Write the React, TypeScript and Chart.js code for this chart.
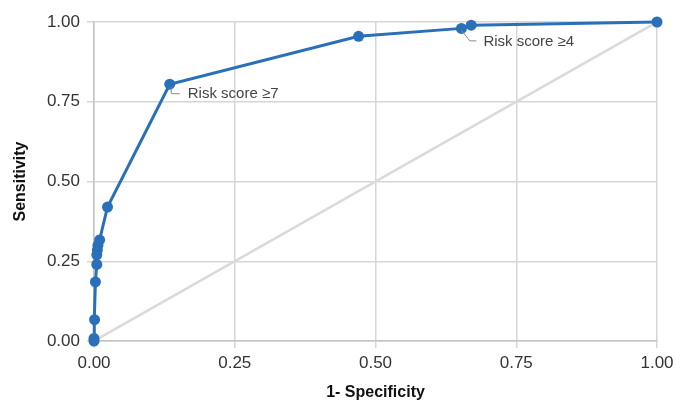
import React, { useEffect, useRef } from "react";
import { Chart, registerables } from "chart.js";

Chart.register(...registerables);

const fpr = [0, 0, 0.001, 0.0025, 0.005, 0.005, 0.006, 0.007, 0.01, 0.024, 0.1345, 0.47, 0.6526, 0.67, 1];
const tpr = [0, 0.008, 0.067, 0.185, 0.24, 0.27, 0.285, 0.3, 0.317, 0.42, 0.805, 0.955, 0.98, 0.99, 1];
const refX = [0, 1];
const refY = [0, 1];
const annotationIndex = [10, 12];
const annotationText = ["Risk score ≥7", "Risk score ≥4"];
const annotationStyle = ["down", "diag"];
const xTitle = "1- Specificity";
const yTitle = "Sensitivity";

const FONT = "'Liberation Sans', Arial, Helvetica, sans-serif";

const annotationPlugin = {
  id: "rocAnnotations",
  afterDatasetsDraw(chart: any) {
    const ctx = chart.ctx;
    const meta = chart.getDatasetMeta(1);
    ctx.save();
    ctx.strokeStyle = "#8a8a8a";
    ctx.lineWidth = 1;
    ctx.fillStyle = "#454545";
    ctx.font = `15px ${FONT}`;
    ctx.textBaseline = "middle";
    ctx.textAlign = "left";
    annotationIndex.forEach((idx, i) => {
      const el = meta.data[idx];
      if (!el) return;
      const px = el.x;
      const py = el.y;
      ctx.beginPath();
      if (annotationStyle[i] === "down") {
        ctx.moveTo(px + 1.5, py + 3);
        ctx.lineTo(px + 1.5, py + 9.5);
        ctx.lineTo(px + 10, py + 9.5);
        ctx.stroke();
        ctx.fillText(annotationText[i], px + 18, py + 10);
      } else {
        ctx.moveTo(px, py + 2);
        ctx.lineTo(px + 8.5, py + 12.5);
        ctx.lineTo(px + 15, py + 12.5);
        ctx.stroke();
        ctx.fillText(annotationText[i], px + 22, py + 13);
      }
    });
    ctx.restore();
  },
};

export default function App() {
  const ref = useRef<HTMLCanvasElement>(null);
  useEffect(() => {
    if (!ref.current) return;
    const roc = fpr.map((x, i) => ({ x, y: tpr[i] }));
    const diag = refX.map((x, i) => ({ x, y: refY[i] }));
    const chart = new Chart(ref.current, {
      type: "scatter",
      data: {
        datasets: [
          {
            data: diag,
            showLine: true,
            borderColor: "#dadada",
            borderWidth: 2.5,
            pointRadius: 0,
            order: 2,
          },
          {
            data: roc,
            showLine: true,
            borderColor: "#2a70b8",
            backgroundColor: "#2a70b8",
            borderWidth: 3,
            pointRadius: 5.5,
            pointBorderWidth: 0,
            clip: false,
            order: 1,
          },
        ],
      },
      options: {
        animation: false,
        responsive: false,
        layout: { padding: { top: 22, right: 19, left: 0, bottom: 0 } },
        plugins: { legend: { display: false }, tooltip: { enabled: false } },
        scales: {
          x: {
            type: "linear",
            min: 0,
            max: 1,
            afterFit: (s: any) => {
              s.height = 59;
              s.paddingLeft = 0;
              s.paddingRight = 0;
            },
            ticks: {
              stepSize: 0.25,
              callback: (v: any) => Number(v).toFixed(2),
              color: "#333333",
              font: { size: 17, family: FONT },
              padding: 5,
              maxRotation: 0,
            },
            grid: { color: "#d6d6d6", lineWidth: 1.5, tickLength: 7 },
            border: { color: "#c4c4c4", width: 1.5 },
            title: {
              display: true,
              text: xTitle,
              color: "#111111",
              font: { size: 16, weight: "bold", family: FONT },
              padding: { top: 0, bottom: -2 },
            },
          },
          y: {
            type: "linear",
            min: 0,
            max: 1,
            afterFit: (s: any) => {
              s.width = 94;
              s.paddingTop = 0;
              s.paddingBottom = 0;
            },
            ticks: {
              stepSize: 0.25,
              callback: (v: any) => Number(v).toFixed(2),
              color: "#333333",
              font: { size: 17, family: FONT },
              padding: 7,
            },
            grid: { color: "#d6d6d6", lineWidth: 1.5, tickLength: 7 },
            border: { color: "#c4c4c4", width: 1.5 },
            title: {
              display: true,
              text: yTitle,
              color: "#111111",
              font: { size: 16, weight: "bold", family: FONT },
              padding: { top: 11, bottom: 0 },
            },
          },
        },
      },
      plugins: [annotationPlugin],
    });
    return () => chart.destroy();
  }, []);
  return (
    <div style={{ position: "fixed", left: 0, top: 0, width: 676, height: 400, background: "#fff" }}>
      <canvas ref={ref} width={676} height={400} />
    </div>
  );
}
